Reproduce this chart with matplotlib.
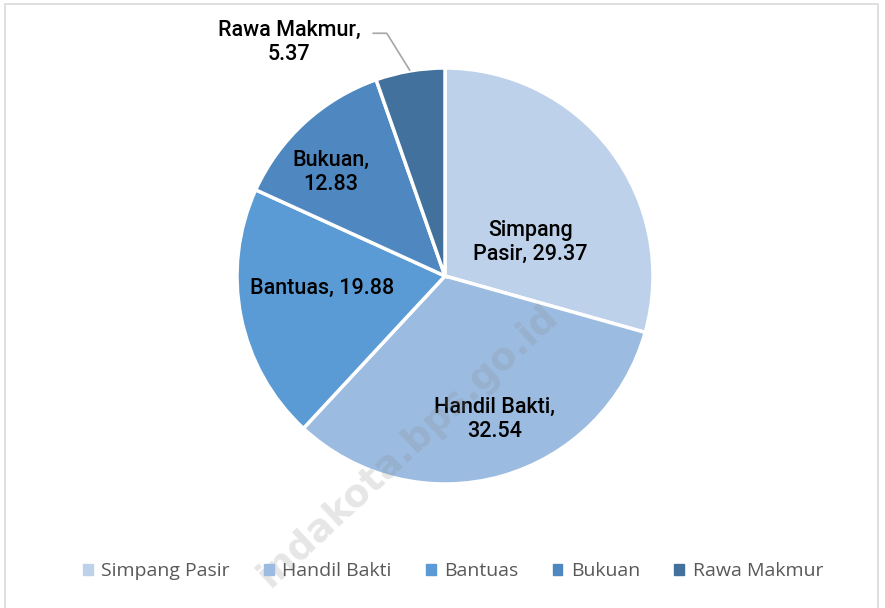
import numpy as np
import matplotlib.pyplot as plt
from matplotlib.patches import Rectangle

# data
desa = ['Simpang Pasir', 'Handil Bakti', 'Bantuas', 'Bukuan', 'Rawa Makmur']
persen = [29.37, 32.54, 19.88, 12.83, 5.37]
warna = ['#BDD1EA', '#9BBBE0', '#5B9BD5', '#4F88C0', '#41719C']
label_teks = ['Simpang\nPasir, 29.37', 'Handil Bakti,\n32.54', 'Bantuas, 19.88',
              'Bukuan,\n12.83', 'Rawa Makmur,\n5.37']

W, H = 885, 608
fig = plt.figure(figsize=(W / 100, H / 100), dpi=100)

# chart frame
fig.patches.append(Rectangle((5 / W, -0.01), (878 - 5) / W, 1 - 4 / H + 0.01,
                             transform=fig.transFigure, fill=False,
                             edgecolor='#D9D9D9', linewidth=1.2))

cx, cy, r = 445, 276, 208
ax = fig.add_axes([(cx - r) / W, 1 - (cy + r) / H, 2 * r / W, 2 * r / H])
wedges, _ = ax.pie(persen, colors=warna, startangle=90, counterclock=False,
                   wedgeprops=dict(edgecolor='white', linewidth=2.5))
ax.set_xlim(-1, 1)
ax.set_ylim(-1, 1)
ax.set_aspect('equal')
ax.axis('off')

# label positions (in radius units)
pos = [(0.41, 0.16), (0.24, -0.69), (-0.59, -0.06), (-0.55, 0.50), (-0.75, 1.125)]
for i, t in enumerate(label_teks):
    ax.text(pos[i][0], pos[i][1], t, ha='center', va='center', fontsize=15.5,
            family='Roboto', fontweight='medium', color='black', linespacing=1.2,
            clip_on=False)

# leader line for Rawa Makmur
ax.plot([-0.345, -0.28, -0.17], [1.167, 1.167, 0.99], color='#A6A6A6',
        linewidth=1.2, clip_on=False)

# watermark
fig.text(408 / W, 1 - 446 / H, 'indakota.bps.go.id', rotation=43, fontsize=27,
         family='DejaVu Sans', fontweight='bold', color='#8C8C8C', alpha=0.22,
         ha='center', va='center', rotation_mode='anchor')

# legend
handles = [Rectangle((0, 0), 1, 1, color=c) for c in warna]
fig.legend(handles, desa, loc='center', bbox_to_anchor=(0.512, 1 - 571 / H),
           ncol=5, frameon=False, handlelength=0.5,
           handleheight=0.5, handletextpad=0.45, columnspacing=1.75,
           prop={'family': 'Open Sans', 'size': 14},
           labelcolor='#595959')

fig.savefig('out.png', dpi=100)
